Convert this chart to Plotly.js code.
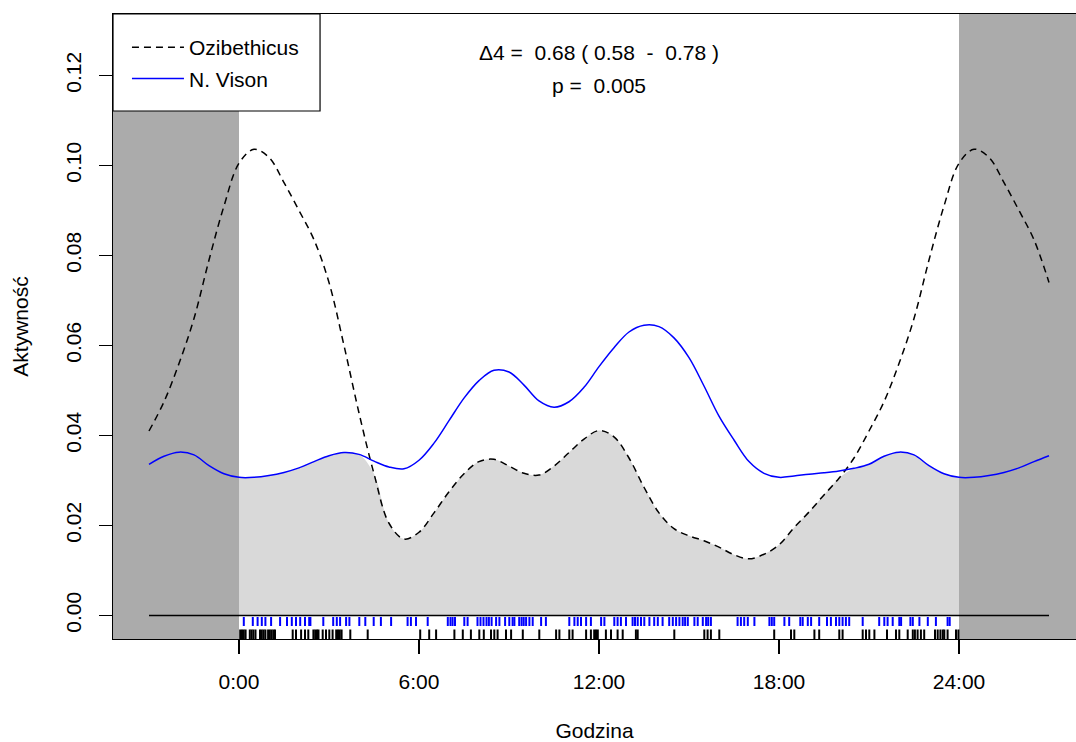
<!DOCTYPE html>
<html><head><meta charset="utf-8">
<script src="https://cdn.plot.ly/plotly-3.0.1.min.js"></script>
<style>html,body{margin:0;padding:0;background:#fff}#chart{width:1076px;height:742px}</style>
</head><body><div id="chart"></div>
<script>
// Hour of day (half-hour steps) and kernel density values
const hours = [0,0.5,1,1.5,2,2.5,3,3.5,4,4.5,5,5.5,6,6.5,7,7.5,8,8.5,9,9.5,10,10.5,11,11.5,
               12,12.5,13,13.5,14,14.5,15,15.5,16,16.5,17,17.5,18,18.5,19,19.5,20,20.5,21,21.5,22,22.5,23,23.5];
const ozibethicus = [0.1005,0.1036,0.1018,0.0962,0.0900,0.0835,0.0740,0.0600,0.0450,0.0315,0.0205,0.0170,
                     0.0185,0.0228,0.0275,0.0315,0.0342,0.0347,0.0332,0.0316,0.0312,0.0332,0.0362,0.0392,
                     0.0411,0.0397,0.0350,0.0285,0.0228,0.0193,0.0177,0.0166,0.0152,0.0135,0.0126,0.0136,
                     0.0157,0.0195,0.0230,0.0268,0.0305,0.0350,0.0410,0.0475,0.0560,0.0660,0.0790,0.0910];
const nVison = [0.0307,0.0307,0.0311,0.0318,0.0328,0.0342,0.0355,0.0362,0.0358,0.0343,0.0330,0.0326,
                0.0345,0.0383,0.0433,0.0483,0.0522,0.0545,0.0541,0.0512,0.0477,0.0463,0.0475,0.0507,
                0.0553,0.0595,0.0630,0.0645,0.0642,0.0617,0.0573,0.0510,0.0443,0.0390,0.0342,0.0316,
                0.0307,0.0310,0.0314,0.0317,0.0321,0.0327,0.0336,0.0354,0.0363,0.0357,0.0333,0.0315];

const ozibethicusTimes = [0.04,0.1,0.16,0.22,0.36,0.42,0.48,0.55,0.7,0.76,0.82,0.88,0.97,1.03,1.09,1.15,1.2,
  1.79,1.9,2.07,2.2,2.31,2.48,2.54,2.6,2.65,2.79,2.9,3.01,3.12,3.24,3.3,3.36,3.42,3.71,4.29,6.04,6.34,6.57,
  7.18,7.46,7.73,8.01,8.16,8.4,8.51,8.62,8.9,9.07,9.46,10.01,10.57,10.68,11.01,11.12,11.57,11.73,11.84,11.9,
  11.96,12.23,12.4,12.62,12.79,13.23,13.29,14.51,15.51,15.62,15.73,16.01,17.84,18.4,18.51,19.18,19.34,20.01,
  20.12,20.79,20.9,21.01,21.18,21.6,21.9,22.01,22.29,22.46,22.53,22.62,22.73,22.84,23.2,23.29,23.38,23.46,
  23.51,23.62,23.9,23.98];
const nVisonTimes = [0.16,0.46,0.62,0.76,0.88,1.07,1.37,1.6,1.76,1.9,2.04,2.2,2.34,2.38,2.81,3.14,3.26,3.37,
  3.57,3.68,4.01,4.21,4.49,4.73,5.07,5.62,5.73,5.9,6.29,6.96,7.05,7.12,7.2,7.51,7.62,7.95,8.05,8.15,8.25,8.33,
  8.42,8.57,8.68,8.87,9.01,9.12,9.18,9.34,9.42,9.49,9.57,9.68,9.79,10.07,10.23,11.01,11.18,11.29,11.4,11.57,
  11.73,12.07,12.18,12.51,12.62,12.73,12.9,13.12,13.2,13.29,13.4,13.51,13.68,13.84,13.96,14.12,14.34,14.46,
  14.57,14.68,14.79,14.87,14.96,15.18,15.29,15.46,15.57,15.64,15.73,16.62,16.73,16.84,16.96,17.18,17.68,
  17.76,17.84,18.18,18.34,18.71,18.79,18.96,19.07,19.34,19.6,19.73,19.9,20.01,20.12,20.23,20.34,20.79,
  21.34,21.51,21.62,21.79,22.01,22.07,22.38,22.46,22.68,22.96,23.23,23.62,23.69];

const seriesNames = ["Ozibethicus", "N. Vison"];
const xTickVals = [0, 6, 12, 18, 24];
const xTickText = ["0:00", "6:00", "12:00", "18:00", "24:00"];
const yTickVals = [0, 0.02, 0.04, 0.06, 0.08, 0.10, 0.12];
const overlapText = "\u03944 =\u00a0 0.68 ( 0.58 \u00a0-\u00a0 0.78 )";
const pText = "p =\u00a0 0.005";
const xTitle = "Godzina";
const yTitle = "Aktywność";

// wrap the 24h circular densities onto the -3h .. 27h plotting window
function wrapSeries(vals) {
  const n = hours.length, x = [], y = [];
  for (let k = -6; k <= n + 6; k++) {
    const i = ((k % n) + n) % n;
    x.push(hours[i] + 24 * Math.floor(k / n));
    y.push(vals[i]);
  }
  return {x, y};
}
const ozi = wrapSeries(ozibethicus);
const vis = wrapSeries(nVison);

// overlap area (min of the two densities) over 0..24h
const ovX = hours.concat([24]);
const ovY = ovX.map((h, j) => {
  const i = j % hours.length;
  return Math.min(ozibethicus[i], nVison[i]);
});

function rug(times, y0, y1) {
  const x = [], y = [];
  times.forEach(t => { x.push(t, t, null); y.push(y0, y1, null); });
  return {x, y};
}
const rugVison = rug(nVisonTimes, -0.00033, -0.00233);
const rugOzi = rug(ozibethicusTimes, -0.00311, -0.00522);

const FONT = "Liberation Sans, Arial, sans-serif";
const FS = 21;

const traces = [
  {x: ovX, y: ovY, type: "scatter", mode: "lines", fill: "tozeroy", fillcolor: "#d9d9d9",
   line: {width: 0, shape: "spline", color: "#d9d9d9"}, showlegend: false, hoverinfo: "skip"},
  {x: [-3, 27], y: [0, 0], type: "scatter", mode: "lines", line: {color: "#000", width: 1.3},
   showlegend: false, hoverinfo: "skip"},
  {x: rugVison.x, y: rugVison.y, type: "scatter", mode: "lines", line: {color: "#0000ff", width: 2},
   showlegend: false, hoverinfo: "skip", connectgaps: false},
  {x: rugOzi.x, y: rugOzi.y, type: "scatter", mode: "lines", line: {color: "#000", width: 2},
   showlegend: false, hoverinfo: "skip", connectgaps: false},
  {x: ozi.x, y: ozi.y, type: "scatter", mode: "lines", name: seriesNames[0], legendgroup: "a",
   line: {color: "#000", width: 1.5, dash: "7px,5px", shape: "spline"}},
  {x: vis.x, y: vis.y, type: "scatter", mode: "lines", name: seriesNames[1], legendgroup: "b",
   line: {color: "#0000ff", width: 1.5, shape: "spline"}}
];

const xr = [-4.2, 27.9];
const layout = {
  width: 1076, height: 742,
  margin: {l: 113, r: 0, t: 14, b: 103},
  paper_bgcolor: "#fff", plot_bgcolor: "#fff",
  font: {family: FONT, size: FS, color: "#000"},
  showlegend: true,
  legend: {x: 0.0145, y: 0.979, xanchor: "left", yanchor: "top", bgcolor: "rgba(0,0,0,0)",
           borderwidth: 0, font: {family: FONT, size: FS, color: "#000"}, itemwidth: 52,
           tracegroupgap: 1, traceorder: "grouped"},
  xaxis: {range: xr, tickvals: xTickVals, ticktext: xTickText, ticks: "outside", ticklen: 14,
          tickcolor: "#000", tickwidth: 1.2, showgrid: false, zeroline: false, showline: true,
          linecolor: "#000", linewidth: 1.2, mirror: true, ticklabelstandoff: 10,
          tickfont: {family: FONT, size: FS, color: "#000"},
          title: {text: xTitle, font: {family: FONT, size: FS, color: "#000"}, standoff: 37}},
  yaxis: {range: [-0.005222, 0.133667], tickvals: yTickVals, tickformat: ".2f", ticks: "outside",
          ticklen: 13, tickcolor: "#000", tickwidth: 1.2, tickangle: -90, showgrid: false,
          zeroline: false, showline: true, linecolor: "#000", linewidth: 1.2, ticklabelstandoff: 9,
          tickfont: {family: FONT, size: FS, color: "#000"},
          title: {text: yTitle, font: {family: FONT, size: FS, color: "#000"}, standoff: 28}},
  shapes: [
    {type: "rect", xref: "x", yref: "paper", x0: xr[0], x1: 0, y0: 0, y1: 1,
     fillcolor: "#ababab", line: {width: 0}, layer: "below"},
    {type: "rect", xref: "x", yref: "paper", x0: 24, x1: xr[1], y0: 0, y1: 1,
     fillcolor: "#ababab", line: {width: 0}, layer: "below"},
    {type: "rect", xref: "paper", yref: "paper", x0: 0, x1: 0.215, y0: 0.8448, y1: 1,
     fillcolor: "#fff", line: {color: "#000", width: 1.2}, layer: "above"}
  ],
  annotations: [
    {x: 12, y: 0.1252, xref: "x", yref: "y", text: overlapText, showarrow: false,
     font: {family: FONT, size: FS, color: "#000"}},
    {x: 12, y: 0.1177, xref: "x", yref: "y", text: pText, showarrow: false,
     font: {family: FONT, size: FS, color: "#000"}}
  ]
};

Plotly.newPlot("chart", traces, layout, {displayModeBar: false, staticPlot: true});
</script>
</body></html>
